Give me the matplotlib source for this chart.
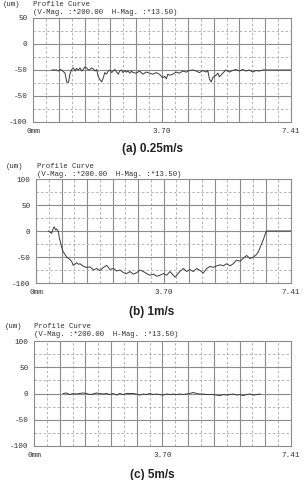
import numpy as np
import matplotlib
matplotlib.use("Agg")
import matplotlib.pyplot as plt

# profile data (x in mm, y in um)
x_a = [0.54, 0.68, 0.73, 0.78, 0.82, 0.92, 0.97, 1.02, 1.06, 1.11, 1.16, 1.21, 1.25, 1.30, 1.35, 1.40,
       1.44, 1.49, 1.54, 1.59, 1.64, 1.68, 1.73, 1.78, 1.83, 1.87, 1.92, 1.97, 2.02, 2.06, 2.11, 2.16,
       2.21, 2.26, 2.30, 2.35, 2.40, 2.45, 2.49, 2.54, 2.59, 2.64, 2.68, 2.73, 2.78, 2.83, 2.87, 2.97,
       3.06, 3.16, 3.25, 3.35, 3.44, 3.54, 3.63, 3.73, 3.78, 3.83, 3.87, 3.92, 4.02, 4.11, 4.21, 4.30,
       4.40, 4.49, 4.59, 4.69, 4.78, 4.88, 4.97, 5.02, 5.07, 5.12, 5.16, 5.21, 5.26, 5.31, 5.35, 5.45,
       5.54, 5.64, 5.73, 5.83, 5.93, 6.02, 6.12, 6.21, 6.31, 6.40, 6.50, 6.60, 6.69, 7.41]
y_a = [0, 0, -2, 1, 0, -6, -23, -24, -8, 1, 4, -2, 3, 0, 4, -2,
       1, 6, 4, 0, 1, 4, 2, -2, 1, -12, -18, -23, -15, -5, -8, -2,
       0, -5, -2, 1, -4, -8, -2, 0, -5, -1, -4, -2, -6, -2, -5, -6,
       -2, -8, -4, -6, -8, -5, -8, -15, -12, -17, -8, -10, -8, -4, -6, -2,
       -4, -1, 0, -2, -5, -1, -4, -1, -18, -23, -15, -12, -10, -6, -13, -6,
       0, -4, -1, 1, -2, 1, -2, 0, -4, -1, -2, 0, 0, 0]

x_b = [0.36, 0.455, 0.50, 0.53, 0.57, 0.60, 0.65, 0.68, 0.72, 0.75, 0.79, 0.84, 0.89, 0.99, 1.04, 1.08,
       1.13, 1.18, 1.23, 1.28, 1.38, 1.47, 1.57, 1.67, 1.76, 1.86, 1.96, 2.05, 2.15, 2.25, 2.34, 2.44,
       2.54, 2.63, 2.73, 2.83, 2.93, 3.02, 3.12, 3.22, 3.31, 3.41, 3.51, 3.60, 3.70, 3.80, 3.89, 3.99,
       4.04, 4.09, 4.18, 4.28, 4.38, 4.47, 4.57, 4.67, 4.77, 4.86, 4.96, 5.06, 5.15, 5.25, 5.35, 5.44,
       5.54, 5.64, 5.73, 5.83, 5.93, 6.02, 6.12, 6.22, 6.32, 6.41, 6.46, 6.51, 6.56, 6.61, 6.65, 6.70, 7.41]
y_b = [0, -4.5, 5, 8, 2, 4, -1, -14, -24, -32, -40, -45, -50, -55, -59, -66,
       -64, -61, -64, -63, -68, -70, -69, -75, -72, -76, -70, -66, -74, -72, -77, -75,
       -80, -82, -78, -83, -80, -75, -78, -82, -85, -83, -87, -85, -82, -85, -78, -85,
       -89, -85, -78, -72, -78, -74, -78, -72, -76, -81, -72, -68, -70, -67, -65, -67,
       -63, -67, -63, -56, -58, -53, -47, -53, -50, -45, -40, -32, -24, -16, -8, 0, 0]

x_c = [0.84, 0.93, 1.03, 1.13, 1.22, 1.41, 1.51, 1.61, 1.70, 1.80, 1.90, 1.99, 2.09, 2.18, 2.28, 2.38,
       2.47, 2.57, 2.67, 2.76, 2.86, 2.95, 3.05, 3.15, 3.24, 3.34, 3.44, 3.53, 3.63, 3.72, 3.82, 3.92,
       4.01, 4.11, 4.20, 4.30, 4.40, 4.49, 4.59, 4.69, 4.78, 4.88, 4.98, 5.17, 5.26, 5.36, 5.46, 5.55,
       5.65, 5.75, 5.84, 5.94, 6.03, 6.13, 6.23, 6.32, 6.42, 6.52]
y_c = [0, 1, -2, 0, -1, 1, 0, -2, -1, 1, 0, -1, 0, -2, 0, -3,
       0, -2, 0, 0, 0, -1, -3, -1, -2, 0, -2, -1, -2, -3, -1, -2,
       -1, -2, -1, -2, -1, 0, 2, 0, -1, -1, -2, -2, -3, -4, -2, -3,
       -2, -1, -3, -2, -4, -2, -1, -3, -2, -1]

ylabels_a = ["50", "0", "-50", "-50", "-100"]
ylabels_bc = ["100", "50", "0", "-50", "-100"]
xticks = [0, 3.70, 7.41]
xlabels = ["0mm", "3.70", "7.41"]
captions = ["(a) 0.25m/s", "(b) 1m/s", "(c) 5m/s"]

W, H = 306, 480
fig = plt.figure(figsize=(W / 100, H / 100), dpi=100)

# panel boxes in pixels: left, top, right, bottom
boxes = [(33, 18, 291, 122), (36, 179, 291, 283), (34, 341, 291, 446)]
head_y = [(5, 12), (166, 174), (327, 335)]
head_x = [(3, 33), (6, 37), (5, 34)]
cap_y = [149, 312, 475]

mono = "Liberation Mono"
data = [(x_a, y_a, ylabels_a), (x_b, y_b, ylabels_bc), (x_c, y_c, ylabels_bc)]

for i, (xs, ys, ylab) in enumerate(data):
    l, t, r, b = boxes[i]
    ax = fig.add_axes([l / W, 1 - b / H, (r - l) / W, (b - t) / H])
    ax.set_xlim(0, 7.41)
    ax.set_ylim(-100, 100)
    for k in range(1, 20):
        xv = k * 7.41 / 20
        if k % 2 == 0:
            ax.axvline(xv, color="#8c8c8c", lw=0.8, zorder=1)
        else:
            ax.axvline(xv, color="#a8a8a8", lw=0.6, ls=(0, (3, 2.5)), zorder=1)
    for k in range(1, 8):
        yv = -100 + k * 25
        if k % 2 == 0:
            ax.axhline(yv, color="#8c8c8c", lw=0.8, zorder=1)
        else:
            ax.axhline(yv, color="#a8a8a8", lw=0.6, ls=(0, (3, 2.5)), zorder=1)
    ax.plot(xs, ys, color="#3c3c3c", lw=0.7, zorder=3)
    ax.set_yticks([100, 50, 0, -50, -100])
    ax.set_yticklabels(ylab, fontfamily=mono, fontsize=5.5, color="#333333")
    ax.set_xticks(xticks)
    ax.set_xticklabels(xlabels, fontfamily=mono, fontsize=5.5, color="#333333")
    ax.tick_params(length=0, pad=4)
    for s in ax.spines.values():
        s.set_color("#8c8c8c")
        s.set_linewidth(0.8)

    y1, y2 = head_y[i]
    x1, x2 = head_x[i]
    fig.text(x1 / W, 1 - y1 / H, "(um)", fontfamily=mono, fontsize=5.3,
             color="#333333", va="center", ha="left")
    fig.text(x2 / W, 1 - y1 / H, "Profile Curve", fontfamily=mono, fontsize=5.3,
             color="#333333", va="center", ha="left")
    fig.text(x2 / W, 1 - y2 / H, "(V-Mag. :*200.00  H-Mag. :*13.50)", fontfamily=mono,
             fontsize=5.3, color="#333333", va="center", ha="left")
    fig.text(152 / W, 1 - cap_y[i] / H, captions[i], fontfamily="Liberation Sans",
             fontweight="bold", fontsize=8.5, color="#222222", va="center", ha="center")

fig.savefig("out.png", dpi=100)
